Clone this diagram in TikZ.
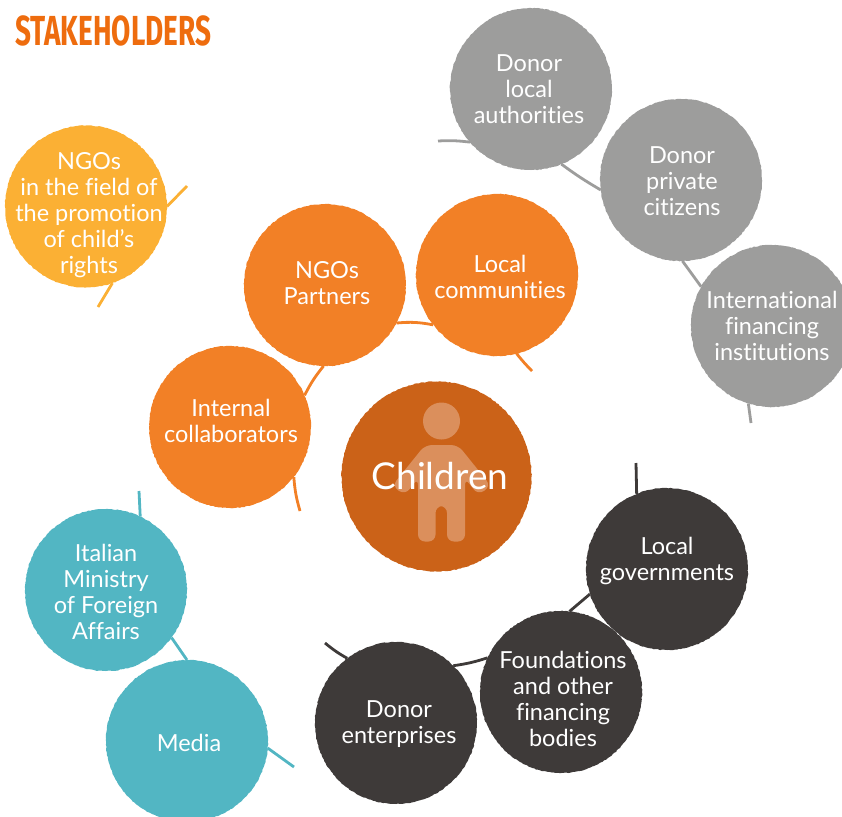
\documentclass[tikz,border=0pt]{standalone}
\usepackage{fontspec}
\setmainfont[Ligatures=NoCommon]{Lato}
\newfontfamily\titlefont[FakeStretch=0.665]{Fira Sans}
\usetikzlibrary{decorations.pathmorphing}
\pgfdeclarelayer{back}
\pgfsetlayers{back,main}
\definecolor{cOrange}{HTML}{F28026}
\definecolor{cChild}{HTML}{CB6218}
\definecolor{cYellow}{HTML}{FBB034}
\definecolor{cGrey}{HTML}{9D9D9C}
\definecolor{cDark}{HTML}{3E3A39}
\definecolor{cTeal}{HTML}{52B6C3}
\definecolor{cTitle}{HTML}{EE6C0E}
\definecolor{cPerson}{HTML}{DB8F5C}
\newcommand{\tx}[3]{\makebox[0pt]{\kern#1pt\kern#1pt\raisebox{\dimexpr-#2pt-9.7pt\relax}[0pt][0pt]{\begin{tabular}[c]{@{}c@{}}#3\end{tabular}}}}
\tikzset{
  blob/.style={circle,fill=#1,minimum size=162pt,inner sep=0pt,outer sep=0pt,text=white,
    font=\fontsize{23.5}{26}\selectfont,decorate,
    decoration={random steps,segment length=2pt,amplitude=.4pt}},
  link/.style={line width=2.8pt,draw=#1},
}
\pgfmathsetseed{7}
\begin{document}
\begin{tikzpicture}[x=1pt,y=-1pt]
\useasboundingbox (0,0) rectangle (842,816);
\node[anchor=west,text=cTitle,inner sep=0pt,font=\titlefont\bfseries\fontsize{42}{42}\selectfont] (title) at (15,31) {STAKEHOLDERS};
% yellow
\node[blob=cYellow] (field) at (86,206.5) {\tx{3}{6.5}{NGOs\\in the field of\\the promotion\\of child’s\\rights}};
% orange
\node[blob=cOrange] (partners) at (325,285) {\tx{2}{-2}{NGOs\\Partners}};
\node[blob=cOrange] (local) at (497,275) {\tx{3}{2}{Local\\communities}};
\node[blob=cOrange] (internal) at (230,427) {\tx{1}{-6}{Internal\\collaborators}};
% grey
\node[blob=cGrey] (dlocal) at (531,89) {\tx{-2}{0}{Donor\\local\\authorities}};
\node[blob=cGrey] (dprivate) at (681,180) {\tx{1}{1}{Donor\\private\\citizens}};
\node[blob=cGrey] (intl) at (772,326) {\tx{0}{0}{International\\financing\\institutions}};
% dark
\node[blob=cDark] (gov) at (667,569) {\tx{0}{-10}{Local\\governments}};
\node[blob=cDark] (found) at (561,692) {\tx{2}{7}{Foundations\\and other\\financing\\bodies}};
\node[blob=cDark] (ent) at (396,723) {\tx{3}{-1}{Donor\\enterprises}};
% teal
\node[blob=cTeal] (italy) at (106,590) {\tx{0}{2}{Italian\\Ministry\\of Foreign\\Affairs}};
\node[blob=cTeal] (media) at (187,741) {\tx{2}{2}{Media}};
% centre
\node[blob=cChild,minimum size=190pt] (children) at (436.5,476.5) {};
\fill[cPerson] (441.5,421) circle (18.5);
\fill[cPerson,rounded corners=7pt] (425,445) -- (458,445) -- (491,486) -- (478,495) -- (465,478) -- (465,541.5) -- (447,541.5) -- (447,506) -- (435.5,506) -- (435.5,541.5) -- (418,541.5) -- (418,478) -- (405,495) -- (392,486) -- cycle;
\node[text=white,inner sep=0pt,font=\fontsize{37}{42}\selectfont] (childrentext) at (440,476) {Children};
% connectors
\coordinate (o1) at (300,511);
\coordinate (o2) at (532,371);
\coordinate (g1) at (438,141);
\coordinate (g2) at (751,423);
\coordinate (d1) at (636,463);
\coordinate (d2) at (325,643);
\coordinate (t1) at (139,491);
\coordinate (t2) at (294,767);
\coordinate (y1) at (187,186);
\coordinate (y2) at (98,307);
\begin{pgfonlayer}{back}
\draw[link=cYellow] (y1) -- (field.0);
\draw[link=cYellow] (field.-71) -- (y2);
\draw[link=cOrange] (o1) to[bend left=6] (internal.-38);
\draw[link=cOrange] (internal.23) to[bend left=6] (partners.-91);
\draw[link=cOrange] (partners.-28) to[bend left=8] (local.218);
\draw[link=cOrange] (local.-76) to[bend right=3] (o2);
\draw[link=cGrey] (g1) to[bend left=5] (dlocal.221);
\draw[link=cGrey] (dlocal.-68) to[bend right=3] (dprivate.187);
\draw[link=cGrey] (dprivate.-89) -- (intl.151);
\draw[link=cGrey] (intl.-107) -- (g2);
\draw[link=cDark] (d1) -- (gov.112);
\draw[link=cDark] (gov.198) -- (found.84);
\draw[link=cDark] (found.155) to[bend left=5] (ent.45);
\draw[link=cDark] (ent.127) to[bend left=5] (d2);
\draw[link=cTeal] (t1) -- (italy.65);
\draw[link=cTeal] (italy.-36) -- (media.90);
\draw[link=cTeal] (media.-5) -- (t2);
\end{pgfonlayer}
\end{tikzpicture}
\end{document}
